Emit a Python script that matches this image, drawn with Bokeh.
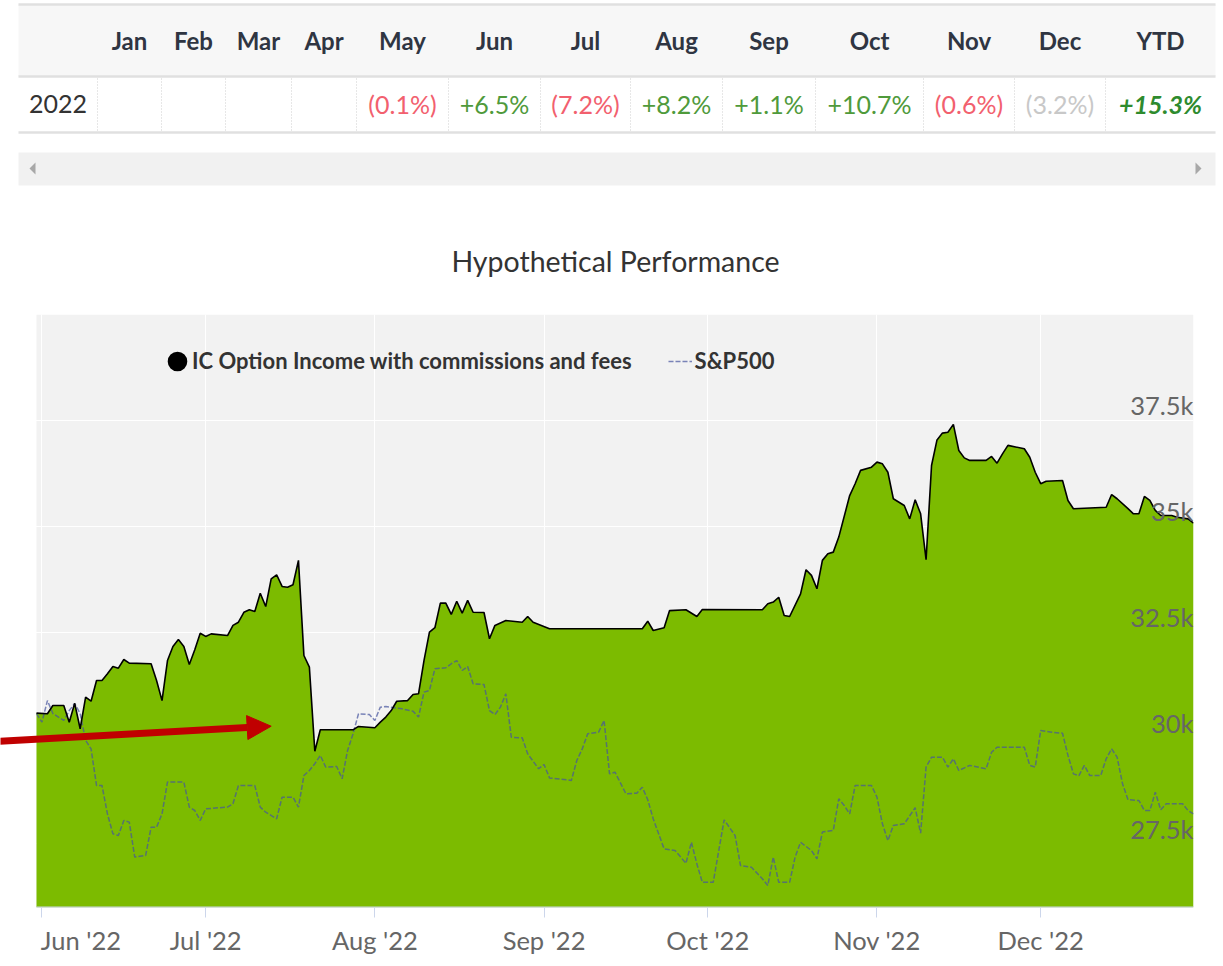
import pandas as pd
from bokeh.plotting import figure
from bokeh.models import (ColumnDataSource, Range1d, FixedTicker, Legend, LegendItem,
                          Arrow, NormalHead, Grid, DatetimeAxis)
from bokeh.embed import file_html
from bokeh.resources import INLINE
from bokeh.core.properties import value

FONT = "Lato"

# ---------------- table data ----------------
table_year = "2022"
month_names = ["Jan", "Feb", "Mar", "Apr", "May", "Jun", "Jul", "Aug", "Sep", "Oct", "Nov", "Dec"]
monthly_returns = [None, None, None, None, -0.1, 6.5, -7.2, 8.2, 1.1, 10.7, -0.6, -3.2]
ytd_return = 15.3
open_month = "Dec"          # month still in progress, shown greyed out
chart_title = "Hypothetical Performance"

# ---------------- chart data ----------------
ic_dates = [
    "2022-05-31", "2022-06-02", "2022-06-03", "2022-06-05", "2022-06-06", "2022-06-07", "2022-06-08",
    "2022-06-09", "2022-06-10", "2022-06-11", "2022-06-12", "2022-06-13", "2022-06-14", "2022-06-15",
    "2022-06-16", "2022-06-17", "2022-06-21", "2022-06-22", "2022-06-23", "2022-06-24", "2022-06-25",
    "2022-06-26", "2022-06-27", "2022-06-28", "2022-06-29", "2022-06-30", "2022-07-01", "2022-07-02",
    "2022-07-05", "2022-07-06", "2022-07-07", "2022-07-08", "2022-07-09", "2022-07-10", "2022-07-11",
    "2022-07-12", "2022-07-13", "2022-07-14", "2022-07-15", "2022-07-16", "2022-07-17", "2022-07-18",
    "2022-07-19", "2022-07-20", "2022-07-21", "2022-07-22", "2022-07-28", "2022-07-29", "2022-08-01",
    "2022-08-02", "2022-08-03", "2022-08-04", "2022-08-05", "2022-08-07", "2022-08-08", "2022-08-09",
    "2022-08-10", "2022-08-11", "2022-08-12", "2022-08-13", "2022-08-14", "2022-08-15", "2022-08-16",
    "2022-08-17", "2022-08-18", "2022-08-19", "2022-08-21", "2022-08-22", "2022-08-23", "2022-08-25",
    "2022-08-28", "2022-08-29", "2022-08-30", "2022-09-02", "2022-09-19", "2022-09-20", "2022-09-21",
    "2022-09-23", "2022-09-24", "2022-09-27", "2022-09-29", "2022-09-30", "2022-10-11", "2022-10-12",
    "2022-10-13", "2022-10-14", "2022-10-15", "2022-10-16", "2022-10-18", "2022-10-19", "2022-10-20",
    "2022-10-21", "2022-10-22", "2022-10-23", "2022-10-24", "2022-10-25", "2022-10-27", "2022-10-28",
    "2022-10-29", "2022-10-31", "2022-11-01", "2022-11-02", "2022-11-03", "2022-11-04", "2022-11-06",
    "2022-11-07", "2022-11-08", "2022-11-09", "2022-11-10", "2022-11-11", "2022-11-12", "2022-11-13",
    "2022-11-14", "2022-11-15", "2022-11-16", "2022-11-17", "2022-11-18", "2022-11-21", "2022-11-22",
    "2022-11-23", "2022-11-24", "2022-11-25", "2022-11-28", "2022-11-29", "2022-11-30", "2022-12-01",
    "2022-12-02", "2022-12-05", "2022-12-06", "2022-12-07", "2022-12-13", "2022-12-14", "2022-12-15",
    "2022-12-17", "2022-12-18", "2022-12-19", "2022-12-20", "2022-12-21", "2022-12-22", "2022-12-23",
    "2022-12-25", "2022-12-26", "2022-12-28", "2022-12-29",
]
ic_values = [
    30590, 30575, 30770, 30770, 30375, 30820, 30220,
    30965, 30870, 31360, 31360, 31520, 31690, 31650,
    31855, 31770, 31755, 31360, 30885, 31830, 32160,
    32325, 32160, 31735, 32085, 32475, 32400, 32460,
    32420, 32660, 32735, 32970, 33030, 32990, 33420,
    33105, 33760, 33855, 33580, 33560, 33620, 34195,
    31950, 31675, 29690, 30195, 30195, 30275, 30245,
    30375, 30495, 30650, 30870, 30885, 31030, 31045,
    31830, 32500, 32605, 33185, 33185, 32920, 33230,
    32950, 33250, 32970, 32965, 32345, 32660, 32775,
    32735, 32870, 32735, 32580, 32580, 32760, 32540,
    32605, 33010, 33030, 32870, 33035, 33030, 33170,
    33210, 33325, 32895, 32870, 33405, 33975, 33840,
    33525, 34195, 34350, 34390, 34745, 35725, 36005,
    36320, 36395, 36515, 36475, 36275, 35650, 35490,
    35175, 35625, 35295, 34210, 36435, 37040, 37200,
    37220, 37405, 36790, 36615, 36555, 36555, 36650,
    36490, 36710, 36910, 36830, 36630, 36275, 36005,
    36065, 36080, 35610, 35415, 35450, 35750, 35650,
    35415, 35295, 35295, 35705, 35610, 35375, 35255,
    35255, 35215, 35175, 35075,
]

spx_dates = [
    "2022-05-31", "2022-06-01", "2022-06-02", "2022-06-03", "2022-06-05", "2022-06-06", "2022-06-07",
    "2022-06-08", "2022-06-09", "2022-06-10", "2022-06-11", "2022-06-12", "2022-06-13", "2022-06-14",
    "2022-06-15", "2022-06-16", "2022-06-17", "2022-06-18", "2022-06-20", "2022-06-21", "2022-06-22",
    "2022-06-23", "2022-06-24", "2022-06-27", "2022-06-28", "2022-06-29", "2022-06-30", "2022-07-01",
    "2022-07-05", "2022-07-06", "2022-07-07", "2022-07-10", "2022-07-11", "2022-07-12", "2022-07-14",
    "2022-07-15", "2022-07-17", "2022-07-18", "2022-07-19", "2022-07-20", "2022-07-21", "2022-07-22",
    "2022-07-23", "2022-07-25", "2022-07-26", "2022-07-27", "2022-07-28", "2022-07-29", "2022-07-31",
    "2022-08-01", "2022-08-02", "2022-08-03", "2022-08-06", "2022-08-08", "2022-08-09", "2022-08-10",
    "2022-08-11", "2022-08-12", "2022-08-14", "2022-08-15", "2022-08-16", "2022-08-17", "2022-08-18",
    "2022-08-19", "2022-08-21", "2022-08-22", "2022-08-23", "2022-08-24", "2022-08-25", "2022-08-26",
    "2022-08-28", "2022-08-29", "2022-08-31", "2022-09-01", "2022-09-02", "2022-09-06", "2022-09-07",
    "2022-09-08", "2022-09-09", "2022-09-11", "2022-09-12", "2022-09-13", "2022-09-14", "2022-09-16",
    "2022-09-18", "2022-09-19", "2022-09-20", "2022-09-21", "2022-09-23", "2022-09-25", "2022-09-27",
    "2022-09-28", "2022-09-29", "2022-09-30", "2022-10-02", "2022-10-04", "2022-10-06", "2022-10-07",
    "2022-10-09", "2022-10-11", "2022-10-12", "2022-10-13", "2022-10-14", "2022-10-16", "2022-10-17",
    "2022-10-18", "2022-10-20", "2022-10-21", "2022-10-22", "2022-10-24", "2022-10-25", "2022-10-26",
    "2022-10-27", "2022-10-28", "2022-10-31", "2022-11-01", "2022-11-02", "2022-11-03", "2022-11-04",
    "2022-11-06", "2022-11-08", "2022-11-09", "2022-11-10", "2022-11-11", "2022-11-13", "2022-11-14",
    "2022-11-15", "2022-11-16", "2022-11-18", "2022-11-21", "2022-11-22", "2022-11-23", "2022-11-28",
    "2022-11-29", "2022-11-30", "2022-12-01", "2022-12-03", "2022-12-05", "2022-12-06", "2022-12-07",
    "2022-12-08", "2022-12-09", "2022-12-10", "2022-12-12", "2022-12-13", "2022-12-14", "2022-12-15",
    "2022-12-16", "2022-12-17", "2022-12-19", "2022-12-20", "2022-12-21", "2022-12-22", "2022-12-23",
    "2022-12-24", "2022-12-27", "2022-12-28", "2022-12-29",
]
spx_values = [
    30575, 30375, 30885, 30580, 30415, 30650, 30815,
    30580, 29945, 29745, 28880, 28880, 28210, 27740,
    27700, 28055, 28015, 27190, 27230, 27895, 27895,
    28210, 28960, 28960, 28370, 28290, 28055, 28330,
    28370, 28450, 28880, 28880, 28370, 28250, 28095,
    28605, 28605, 28370, 29115, 29235, 29395, 29590,
    29315, 29330, 29040, 29705, 30100, 30575, 30555,
    30415, 30730, 30745, 30690, 30635, 30495, 31085,
    31125, 31635, 31660, 31755, 31830, 31595, 31690,
    31280, 31265, 30650, 30555, 30730, 31045, 30020,
    30005, 29630, 29275, 29375, 29060, 29000, 29470,
    29745, 30100, 30140, 30415, 29155, 29195, 28685,
    28700, 28840, 28545, 28095, 27385, 27345, 27045,
    27540, 27030, 26595, 26595, 28070, 27700, 26990,
    26950, 26680, 26520, 27190, 26595, 26595, 27190,
    27540, 27345, 27150, 27780, 27820, 28565, 28410,
    28210, 28880, 28880, 28605, 27975, 27580, 27935,
    27975, 28355, 27755, 29315, 29550, 29550, 29315,
    29510, 29235, 29355, 29275, 29665, 29785, 29785,
    29355, 29315, 30180, 30140, 30115, 29590, 29155,
    29115, 29355, 29115, 29115, 29510, 29745, 29550,
    28920, 28545, 28525, 28290, 28290, 28720, 28305,
    28450, 28450, 28290, 28210,
]

month_ticks = ["2022-06-01", "2022-07-01", "2022-08-01", "2022-09-01",
               "2022-10-01", "2022-11-01", "2022-12-01"]
month_tick_labels = ["Jun '22", "Jul '22", "Aug '22", "Sep '22", "Oct '22", "Nov '22", "Dec '22"]
y_ticks = [27500, 30000, 32500, 35000, 37500]
y_tick_labels = ["27.5k", "30k", "32.5k", "35k", "37.5k"]
y_min, y_max = 26000, 40000

series_names = ["IC Option Income with commissions and fees", "S&P500"]

# annotation arrow (date, value) pointing at the July drop; it enters from the page edge
arrow_from = ("2022-05-24", 29920)
arrow_to = ("2022-07-13", 30280)


def ms(d):
    return int(pd.Timestamp(d).value // 10**6)


def fmt(v):
    if v is None:
        return ""
    return "(%.1f%%)" % abs(v) if v < 0 else "+%.1f%%" % v


W = 1223
HH = 308

# ============ header figure: table + scroll bar + chart title ============
h = figure(width=W, height=HH, x_range=Range1d(0, W), y_range=Range1d(HH, 0),
           output_backend="svg", toolbar_location=None, min_border=0,
           x_axis_location=None, y_axis_location=None, title=None)
h.grid.visible = False
h.outline_line_color = None
h.background_fill_color = "white"
h.border_fill_color = "white"

col_edges = [18, 97, 161, 225, 291, 356, 448, 540, 630, 722, 815, 923, 1014, 1105, 1215]
col_centers = [(a + b) / 2 for a, b in zip(col_edges[:-1], col_edges[1:])]
tbl_left, tbl_right = col_edges[0], col_edges[-1]

h.quad(left=tbl_left, right=tbl_right, top=4, bottom=76, fill_color="#f7f7f7", line_color=None)
h.segment(x0=[tbl_left] * 3, x1=[tbl_right] * 3, y0=[4, 76, 132], y1=[4, 76, 132],
          line_color="#e0e0e0", line_width=2.5)
inner = col_edges[1:-1]
h.segment(x0=inner, x1=inner, y0=[78] * len(inner), y1=[131] * len(inner),
          line_color="#cfcfcf", line_width=1, line_dash="1 2")

header_labels = [""] + month_names + ["YTD"]
h.text(x=col_centers, y=[40] * len(col_centers), text=header_labels,
       text_align="center", text_baseline="middle", text_font=value(FONT),
       text_font_size="24px", text_font_style="bold", text_color="#2f3542")

row_texts = [table_year] + [fmt(v) for v in monthly_returns]
row_colors = ["#333333"]
for m, v in zip(month_names, monthly_returns):
    if v is None:
        row_colors.append("#333333")
    elif m == open_month:
        row_colors.append("#c8c8c8")
    elif v < 0:
        row_colors.append("#f2606e")
    else:
        row_colors.append("#4f9a3b")
row_src = ColumnDataSource(dict(x=col_centers[:-1], y=[103] * len(row_texts), t=row_texts, c=row_colors))
h.text(x="x", y="y", text="t", text_color="c", source=row_src, text_align="center",
       text_baseline="middle", text_font=value(FONT), text_font_size="25px")
h.text(x=[col_centers[-1]], y=[103], text=[fmt(ytd_return)], text_align="center",
       text_baseline="middle", text_font=value(FONT), text_font_size="25px",
       text_font_style="bold italic", text_color="#2e8b2e")

# scroll bar
h.quad(left=tbl_left, right=tbl_right, top=152, bottom=185, fill_color="#f1f1f1", line_color=None)
h.patches(xs=[[29, 35, 35], [1201, 1195, 1195]], ys=[[168, 162, 174], [168, 162, 174]],
          fill_color="#a8a8a8", line_color=None)

# chart title
h.text(x=[615], y=[260], text=[chart_title], text_align="center", text_baseline="middle",
       text_font=value(FONT), text_font_size="28.5px", text_color="#333333")

# ============ chart figure ============
# The frame spans the full page width so that the annotation arrow can start at the page
# edge; the grey plotting area begins where the data begins.
x_start, x_end = ms(ic_dates[0]), ms(ic_dates[-1])
plot_l, plot_r, frame_t, frame_b = 36, 1193, 314, 907
px_per_ms = (plot_r - plot_l) / (x_end - x_start)
range_start = x_start - plot_l / px_per_ms

p = figure(width=W, height=966 - HH, x_axis_type="datetime",
           x_range=Range1d(range_start, x_end), y_range=Range1d(y_min, y_max),
           output_backend="svg", toolbar_location=None, title=None,
           y_axis_location=None,
           min_border_left=0, min_border_right=W - plot_r,
           min_border_top=frame_t - HH, min_border_bottom=966 - frame_b)
p.background_fill_color = "white"
p.border_fill_color = "white"
p.outline_line_color = None
for g in p.ygrid:
    g.visible = False

# grey plot background over the data span
p.quad(left=x_start, right=x_end, bottom=y_min, top=y_max, fill_color="#f2f2f2",
       line_color=None, level="image")

tick_ms = [ms(d) for d in month_ticks]
p.xgrid.ticker = FixedTicker(ticks=tick_ms)
p.xgrid.grid_line_color = "white"
p.xgrid.grid_line_width = 1
p.add_layout(Grid(dimension=1, ticker=FixedTicker(ticks=y_ticks), grid_line_color="white",
                  grid_line_width=1))

ic_src = ColumnDataSource(dict(x=[ms(d) for d in ic_dates], y=ic_values))
spx_src = ColumnDataSource(dict(x=[ms(d) for d in spx_dates], y=spx_values))

p.varea(x="x", y1=y_min, y2="y", source=ic_src, fill_color="#7cbb00")
r_spx = p.line(x="x", y="y", source=spx_src, line_color="#46549e", line_alpha=0.7,
               line_width=1.5, line_dash="5 2")
p.line(x="x", y="y", source=ic_src, line_color="black", line_width=1.6)
# legend symbol for the main series (marker shown only in the legend)
r_dot = p.scatter(x="x", y="y", source=ic_src, marker="circle", fill_color="black",
                  line_color="black", line_width=10, visible=False)

# axis baseline under the data span
p.segment(x0=[x_start], x1=[x_end], y0=[y_min], y1=[y_min], line_color="#ccd6eb", line_width=2)

# y tick labels drawn inside the plot on the right
ylab_src = ColumnDataSource(dict(x=[x_end] * len(y_ticks), y=y_ticks, t=y_tick_labels))
p.text(x="x", y="y", text="t", source=ylab_src, text_align="right", text_baseline="bottom",
       text_font=value(FONT), text_font_size="25.5px", text_color="#666666")

# x axis: tick marks at month starts (no labels) ...
xa = p.xaxis[0]
xa.ticker = FixedTicker(ticks=tick_ms)
xa.major_label_overrides = {t: "" for t in tick_ms}
xa.major_label_text_font_size = "1px"
xa.major_label_standoff = 0
xa.axis_line_color = None
xa.major_tick_line_color = "#ccd6eb"
xa.minor_tick_line_color = None
xa.major_tick_out = 10
xa.major_tick_in = 0

# ... and a label row below it: labels centred on their month, the first one pushed right
# so that it starts at its tick (as the original chart does)
first_label_half_width = 39
label_pos = [tick_ms[0] + first_label_half_width / px_per_ms] + tick_ms[1:]
xl = DatetimeAxis(ticker=FixedTicker(ticks=label_pos),
                  major_label_overrides={t: lab for t, lab in zip(label_pos, month_tick_labels)},
                  axis_line_color=None, major_tick_line_color=None, minor_tick_line_color=None,
                  major_tick_out=0, major_tick_in=0, major_label_standoff=7,
                  major_label_text_font=FONT, major_label_text_font_size="25.5px",
                  major_label_text_color="#666666")
p.add_layout(xl, "below")

legend = Legend(items=[LegendItem(label=series_names[0], renderers=[r_dot]),
                       LegendItem(label=series_names[1], renderers=[r_spx])],
                location=(165, frame_b - 374), orientation="horizontal",
                glyph_width=24, glyph_height=24, label_standoff=3, spacing=36,
                padding=0, margin=0,
                label_text_font=FONT, label_text_font_size="22px", label_text_font_style="bold",
                label_text_color="#333333", inactive_fill_alpha=0,
                background_fill_alpha=0, border_line_alpha=0)
p.add_layout(legend)

p.add_layout(Arrow(end=NormalHead(size=24, fill_color="#c00000", line_color="#c00000"),
                   x_start=ms(arrow_from[0]), y_start=arrow_from[1],
                   x_end=ms(arrow_to[0]), y_end=arrow_to[1],
                   line_color="#c00000", line_width=7))

open("out.html", "w").write(file_html([h, p], INLINE))
